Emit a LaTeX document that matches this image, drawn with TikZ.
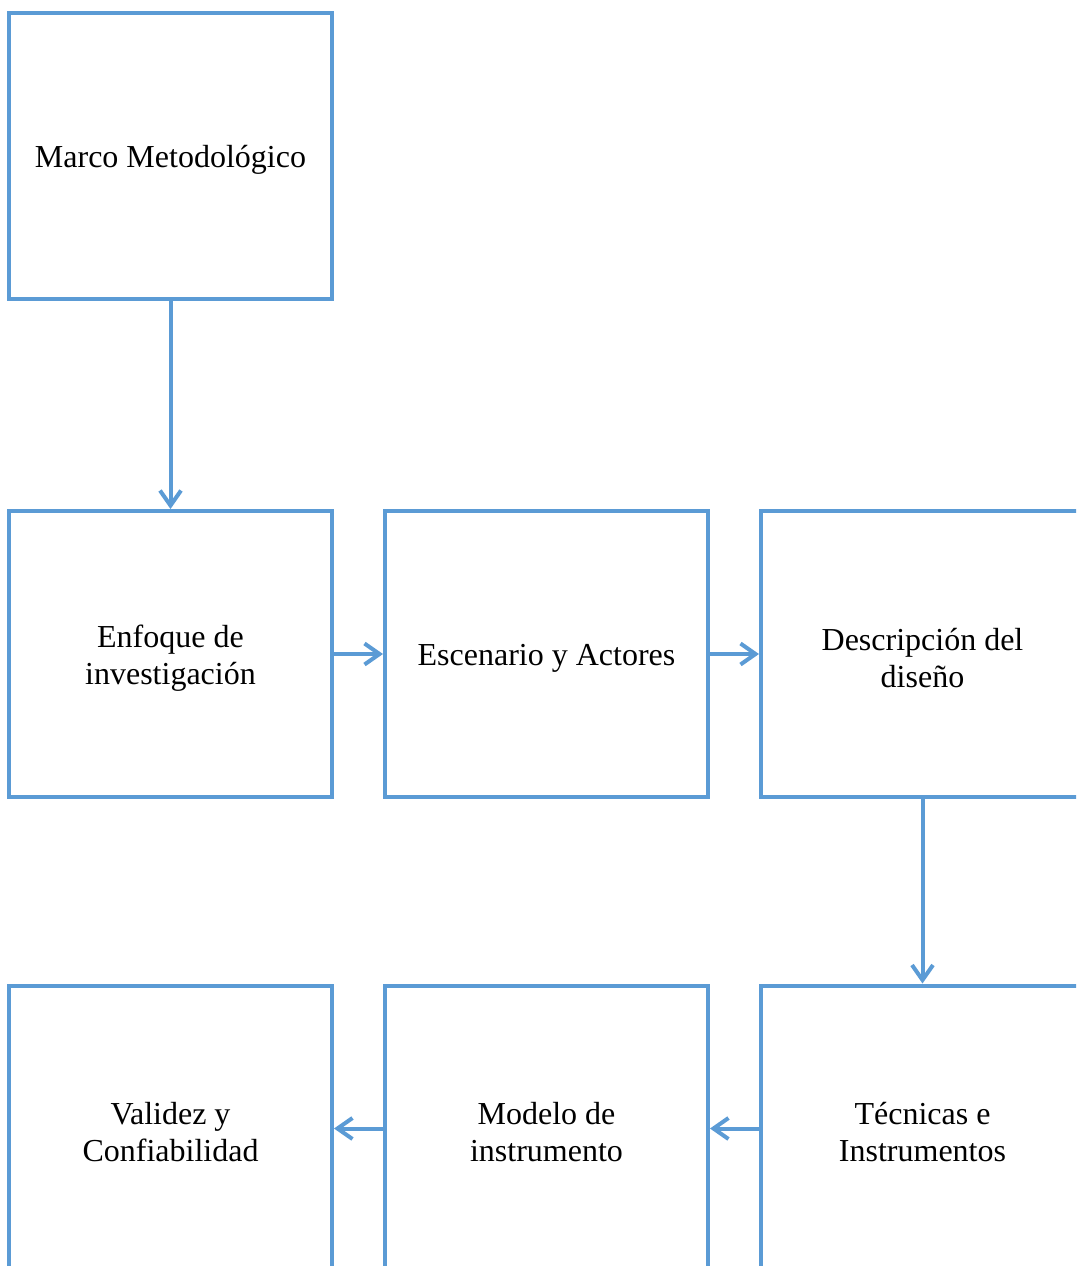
\documentclass[tikz,border=0pt]{standalone}
\usepackage{fontspec}
\setmainfont{Liberation Serif}
\usetikzlibrary{arrows.meta}
\definecolor{boxblue}{HTML}{5B9BD5}
\tikzset{
  stepbox/.style={draw=boxblue, line width=4pt, minimum width=323pt, minimum height=286pt,
    inner sep=0pt},
  lbl/.style={align=center, font=\fontsize{32}{37}\selectfont, text=black, inner sep=0pt},
  conn/.style={draw=boxblue, line width=4pt, -{Straight Barb[length=15pt,width=21pt,line width=4pt]}}
}
\begin{document}
\begin{tikzpicture}[x=1pt,y=1pt]
\useasboundingbox (0,0) rectangle (1076,-1266);
\clip (0,0) rectangle (1076,-1266);
\node[stepbox] (mm) at (170.5,-155.5) {};
\node[stepbox] (enf) at (170.5,-654) {};
\node[stepbox] (esc) at (546.5,-654) {};
\node[stepbox] (des) at (922.5,-654) {};
\node[stepbox] (tec) at (922.5,-1128.5) {};
\node[stepbox] (mod) at (546.5,-1128.5) {};
\node[stepbox] (val) at (170.5,-1128.5) {};
\node[lbl] (tmm) at ([yshift=-4pt]mm.center) {Marco Metodológico};
\node[lbl] (tenf) at ([yshift=-4pt]enf.center) {Enfoque de\\investigación};
\node[lbl] (tesc) at ([yshift=-4pt]esc.center) {Escenario y Actores};
\node[lbl] (tdes) at ([yshift=-4pt]des.center) {Descripción del\\diseño};
\node[lbl] (ttec) at ([yshift=-4pt]tec.center) {Técnicas e\\Instrumentos};
\node[lbl] (tmod) at ([yshift=-4pt]mod.center) {Modelo de\\instrumento};
\node[lbl] (tval) at ([yshift=-4pt]val.center) {Validez y\\Confiabilidad};
\draw[conn] (mm) -- (enf);
\draw[conn] (enf) -- (esc);
\draw[conn] (esc) -- (des);
\draw[conn] (des) -- (tec);
\draw[conn] (tec) -- (mod);
\draw[conn] (mod) -- (val);
\end{tikzpicture}
\end{document}
